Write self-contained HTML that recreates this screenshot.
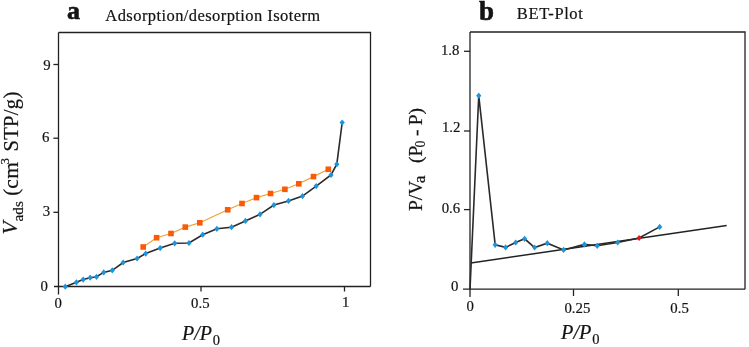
<!DOCTYPE html>
<html><head><meta charset="utf-8"><style>
html,body{margin:0;padding:0;background:#fff;}
svg{display:block;will-change:transform;}
text{font-family:"Liberation Serif",serif;fill:#141414;stroke:#141414;stroke-width:0.2px;}
</style></head><body>
<svg width="749" height="347" viewBox="0 0 749 347">
<g stroke="#222" stroke-width="1.3" fill="none">
<path d="M58.5 32.5H370.5V286.5"/>
<path d="M58.5 32.5V294.5"/>
<path d="M54 286.5H370.5"/>
<path d="M53.4 212.3H58.5"/>
<path d="M53.4 138.2H58.5"/>
<path d="M53.4 64.5H58.5"/>
<path d="M201 286.5V291.5"/>
<path d="M344.5 286.5V291.5"/>
</g>
<g stroke="#222" stroke-width="1.3" fill="none">
<path d="M470 32H745V289.2"/>
<path d="M470 32V297"/>
<path d="M463 289.2H745"/>
<path d="M464 209.6H470"/>
<path d="M464 131H470"/>
<path d="M464 51.3H470"/>
<path d="M573.5 289.2V296"/>
<path d="M678.3 289.2V296"/>
</g>
<polyline points="143.2,247 156.6,237.7 171,233.5 185.3,227.1 199.8,222.8 227.7,209.8 242,203.5 256.5,197.6 270.5,193.5 284.9,189.3 298.8,183.8 313.5,176.6 328.3,169.3" fill="none" stroke="#EFA234" stroke-width="1.2"/>
<polyline points="65.3,286.7 76.4,282.3 83.2,279.6 90.2,277.7 96.5,276.8 103.7,272.4 112.3,270.3 123.2,262.5 137.1,258.5 145.7,253.6 160.2,248.1 174.7,243.3 189,243 202.7,234.7 216.9,228.8 231.5,227.2 245.4,220.9 260,214.3 273.9,205.1 288.5,200.9 302.5,196.1 316.2,186.1 331,175 336.8,164.2 342.2,122.5" fill="none" stroke="#2a2a2a" stroke-width="1.6"/>
<rect x="140.39999999999998" y="244.2" width="5.6" height="5.6" fill="#FA5A05"/>
<rect x="153.79999999999998" y="234.89999999999998" width="5.6" height="5.6" fill="#FA5A05"/>
<rect x="168.2" y="230.7" width="5.6" height="5.6" fill="#FA5A05"/>
<rect x="182.5" y="224.29999999999998" width="5.6" height="5.6" fill="#FA5A05"/>
<rect x="197.0" y="220.0" width="5.6" height="5.6" fill="#FA5A05"/>
<rect x="224.89999999999998" y="207.0" width="5.6" height="5.6" fill="#FA5A05"/>
<rect x="239.2" y="200.7" width="5.6" height="5.6" fill="#FA5A05"/>
<rect x="253.7" y="194.79999999999998" width="5.6" height="5.6" fill="#FA5A05"/>
<rect x="267.7" y="190.7" width="5.6" height="5.6" fill="#FA5A05"/>
<rect x="282.09999999999997" y="186.5" width="5.6" height="5.6" fill="#FA5A05"/>
<rect x="296.0" y="181.0" width="5.6" height="5.6" fill="#FA5A05"/>
<rect x="310.7" y="173.79999999999998" width="5.6" height="5.6" fill="#FA5A05"/>
<rect x="325.5" y="166.5" width="5.6" height="5.6" fill="#FA5A05"/>
<path d="M65.3 283.59999999999997L67.89999999999999 286.7L65.3 289.8L62.699999999999996 286.7Z" fill="#1F93D8"/>
<path d="M76.4 279.2L79.0 282.3L76.4 285.40000000000003L73.80000000000001 282.3Z" fill="#1F93D8"/>
<path d="M83.2 276.5L85.8 279.6L83.2 282.70000000000005L80.60000000000001 279.6Z" fill="#1F93D8"/>
<path d="M90.2 274.59999999999997L92.8 277.7L90.2 280.8L87.60000000000001 277.7Z" fill="#1F93D8"/>
<path d="M96.5 273.7L99.1 276.8L96.5 279.90000000000003L93.9 276.8Z" fill="#1F93D8"/>
<path d="M103.7 269.29999999999995L106.3 272.4L103.7 275.5L101.10000000000001 272.4Z" fill="#1F93D8"/>
<path d="M112.3 267.2L114.89999999999999 270.3L112.3 273.40000000000003L109.7 270.3Z" fill="#1F93D8"/>
<path d="M123.2 259.4L125.8 262.5L123.2 265.6L120.60000000000001 262.5Z" fill="#1F93D8"/>
<path d="M137.1 255.4L139.7 258.5L137.1 261.6L134.5 258.5Z" fill="#1F93D8"/>
<path d="M145.7 250.5L148.29999999999998 253.6L145.7 256.7L143.1 253.6Z" fill="#1F93D8"/>
<path d="M160.2 245.0L162.79999999999998 248.1L160.2 251.2L157.6 248.1Z" fill="#1F93D8"/>
<path d="M174.7 240.20000000000002L177.29999999999998 243.3L174.7 246.4L172.1 243.3Z" fill="#1F93D8"/>
<path d="M189 239.9L191.6 243L189 246.1L186.4 243Z" fill="#1F93D8"/>
<path d="M202.7 231.6L205.29999999999998 234.7L202.7 237.79999999999998L200.1 234.7Z" fill="#1F93D8"/>
<path d="M216.9 225.70000000000002L219.5 228.8L216.9 231.9L214.3 228.8Z" fill="#1F93D8"/>
<path d="M231.5 224.1L234.1 227.2L231.5 230.29999999999998L228.9 227.2Z" fill="#1F93D8"/>
<path d="M245.4 217.8L248.0 220.9L245.4 224.0L242.8 220.9Z" fill="#1F93D8"/>
<path d="M260 211.20000000000002L262.6 214.3L260 217.4L257.4 214.3Z" fill="#1F93D8"/>
<path d="M273.9 202.0L276.5 205.1L273.9 208.2L271.29999999999995 205.1Z" fill="#1F93D8"/>
<path d="M288.5 197.8L291.1 200.9L288.5 204.0L285.9 200.9Z" fill="#1F93D8"/>
<path d="M302.5 193.0L305.1 196.1L302.5 199.2L299.9 196.1Z" fill="#1F93D8"/>
<path d="M316.2 183.0L318.8 186.1L316.2 189.2L313.59999999999997 186.1Z" fill="#1F93D8"/>
<path d="M331 171.9L333.6 175L331 178.1L328.4 175Z" fill="#1F93D8"/>
<path d="M336.8 161.1L339.40000000000003 164.2L336.8 167.29999999999998L334.2 164.2Z" fill="#1F93D8"/>
<path d="M342.2 119.4L344.8 122.5L342.2 125.6L339.59999999999997 122.5Z" fill="#1F93D8"/>
<path d="M470.8 263L726.7 225.4" stroke="#222" stroke-width="1.5" fill="none"/>
<polyline points="470,289.2 478.75,95.7 495.2,244.8 505.6,247.4 515.7,242.5 524.6,238.8 534.6,247.5 547.3,243.2 563.6,249.9 584.4,244.4 597.2,245.8 617.7,242.5 639.1,238 659.7,226.9" fill="none" stroke="#2a2a2a" stroke-width="1.6"/>
<path d="M478.75 92.60000000000001L481.35 95.7L478.75 98.8L476.15 95.7Z" fill="#1F93D8"/>
<path d="M495.2 241.70000000000002L497.8 244.8L495.2 247.9L492.59999999999997 244.8Z" fill="#1F93D8"/>
<path d="M505.6 244.3L508.20000000000005 247.4L505.6 250.5L503.0 247.4Z" fill="#1F93D8"/>
<path d="M515.7 239.4L518.3000000000001 242.5L515.7 245.6L513.1 242.5Z" fill="#1F93D8"/>
<path d="M524.6 235.70000000000002L527.2 238.8L524.6 241.9L522.0 238.8Z" fill="#1F93D8"/>
<path d="M534.6 244.4L537.2 247.5L534.6 250.6L532.0 247.5Z" fill="#1F93D8"/>
<path d="M547.3 240.1L549.9 243.2L547.3 246.29999999999998L544.6999999999999 243.2Z" fill="#1F93D8"/>
<path d="M563.6 246.8L566.2 249.9L563.6 253.0L561.0 249.9Z" fill="#1F93D8"/>
<path d="M584.4 241.3L587.0 244.4L584.4 247.5L581.8 244.4Z" fill="#1F93D8"/>
<path d="M597.2 242.70000000000002L599.8000000000001 245.8L597.2 248.9L594.6 245.8Z" fill="#1F93D8"/>
<path d="M617.7 239.4L620.3000000000001 242.5L617.7 245.6L615.1 242.5Z" fill="#1F93D8"/>
<path d="M639.1 234.9L641.7 238L639.1 241.1L636.5 238Z" fill="#E01515"/>
<path d="M659.7 223.8L662.3000000000001 226.9L659.7 230.0L657.1 226.9Z" fill="#1F93D8"/>
<text x="66.94" y="18.99" font-size="26" text-anchor="start" font-weight="bold" style="stroke-width:0.6px">a</text>
<text x="105.37" y="20.79" font-size="16.5" text-anchor="start" letter-spacing="0.4210714285714302" >Adsorption/desorption Isoterm</text>
<text x="478.94" y="19.56" font-size="27" text-anchor="start" font-weight="bold" style="stroke-width:0.6px">b</text>
<text x="516.85" y="19.00" font-size="16.5" text-anchor="start" letter-spacing="0.6" >BET-Plot</text>
<text x="47.84" y="291.23" font-size="14.8" text-anchor="end" >0</text>
<text x="50.13" y="216.13" font-size="14.8" text-anchor="end" >3</text>
<text x="49.51" y="142.03" font-size="14.8" text-anchor="end" >6</text>
<text x="50.72" y="69.59" font-size="14.8" text-anchor="end" >9</text>
<text x="58.14" y="308.18" font-size="14.8" text-anchor="middle" >0</text>
<text x="200.32" y="308.18" font-size="14.8" text-anchor="middle" >0.5</text>
<text x="345.77" y="306.56" font-size="14.8" text-anchor="middle" >1</text>
<text x="458.38" y="291.43" font-size="14.8" text-anchor="end" >0</text>
<text x="460.13" y="212.62" font-size="14.8" text-anchor="end" >0.6</text>
<text x="460.45" y="131.79" font-size="14.8" text-anchor="end" >1.2</text>
<text x="459.46" y="55.42" font-size="14.8" text-anchor="end" >1.8</text>
<text x="470.19" y="311.42" font-size="14.8" text-anchor="middle" >0</text>
<text x="577.37" y="313.13" font-size="14.8" text-anchor="middle" >0.25</text>
<text x="679.56" y="313.13" font-size="14.8" text-anchor="middle" >0.5</text>
<text x="182" y="339.7" font-size="20" font-style="italic">P/P<tspan font-size="14.5" font-style="normal" dx="0.8" dy="5">0</tspan></text>
<text x="561" y="338.8" font-size="20.3" font-style="italic">P/P<tspan font-size="14.5" font-style="normal" dx="0.8" dy="5">0</tspan></text>
<text transform="rotate(-90)" font-size="20.5"><tspan x="-234.4" y="17.1" font-style="italic" font-size="21.5">V</tspan><tspan x="-221.4" y="23.2" font-size="15.2">ads</tspan><tspan x="-195.8" y="18.3">(</tspan><tspan x="-188.8" y="18.3" font-size="21.5" letter-spacing="0.6">cm</tspan><tspan x="-164.6" y="8.6" font-size="13">3</tspan><tspan x="-151.6" y="17.8" letter-spacing="0.35">STP/g)</tspan></text>
<text transform="rotate(-90)" font-size="19.5"><tspan x="-211" y="421.5">P/V</tspan><tspan x="-183.3" y="425.1" font-size="17.5">a</tspan><tspan x="-163" y="421.5">(P</tspan><tspan x="-147.6" y="425.3" font-size="13.8">0</tspan><tspan x="-136" y="421.5">-</tspan><tspan x="-125.3" y="421.5">P)</tspan></text>
</svg>
</body></html>
